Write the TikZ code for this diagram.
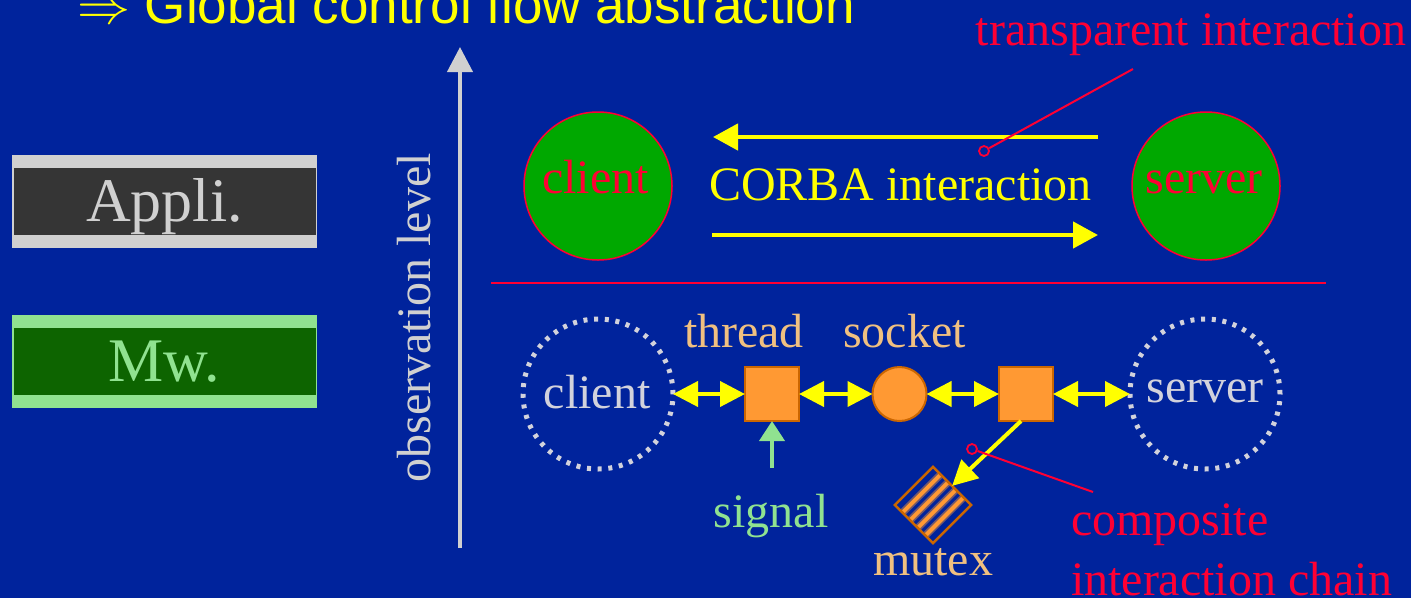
\documentclass[tikz,border=0pt]{standalone}
\usepackage{fontspec}
\setmainfont{Liberation Serif}
\newfontfamily\titlefont{Liberation Sans}
\usetikzlibrary{arrows.meta,calc}

\definecolor{slidebg}{RGB}{0,35,156}
\definecolor{axisgray}{RGB}{208,208,208}
\definecolor{applidark}{RGB}{53,53,53}
\definecolor{mwdark}{RGB}{13,100,0}
\definecolor{mwlight}{RGB}{144,226,144}
\definecolor{hotred}{RGB}{255,0,51}
\definecolor{brightyellow}{RGB}{255,255,0}
\definecolor{ballgreen}{RGB}{0,168,0}
\definecolor{lockorange}{RGB}{255,153,51}
\definecolor{lockedge}{RGB}{204,102,0}
\definecolor{tan}{RGB}{240,192,128}
\definecolor{dotgray}{RGB}{210,210,220}

\newcommand\szlabel{\fontsize{48}{58}\selectfont}
\newcommand\szlayer{\fontsize{62}{72}\selectfont}

\begin{document}
\begin{tikzpicture}[x=1pt,y=-1pt,
  txt/.style={anchor=base,inner sep=0pt,outer sep=0pt,font=\szlabel},
  txtleft/.style={anchor=base west,inner sep=0pt,outer sep=0pt,font=\szlabel},
  layertxt/.style={anchor=base,inner sep=0pt,font=\szlayer},
  bar/.style={inner sep=0pt,outer sep=0pt,minimum width=305pt,minimum height=93pt},
  barcore/.style={inner sep=0pt,outer sep=0pt,minimum width=302pt,minimum height=67pt},
  ball/.style={circle,fill=ballgreen,draw=hotred,line width=1.5pt,minimum size=148pt,inner sep=0pt,outer sep=0pt},
  ghost/.style={circle,draw=dotgray,line width=5pt,dash pattern=on 4pt off 6.7pt,minimum size=150pt,inner sep=0pt,outer sep=0pt},
  resource/.style={fill=lockorange,draw=lockedge,line width=2pt,minimum size=54pt,inner sep=0pt,outer sep=0pt},
  pin/.style={circle,draw=hotred,line width=1.8pt,minimum size=10pt,inner sep=0pt},
  leader/.style={hotred,line width=2pt},
  flow/.style={brightyellow,line width=4.5pt,-{Triangle[length=25pt,width=26pt]}},
  biflow/.style={brightyellow,line width=4pt,{Triangle[length=25pt,width=25pt]}-{Triangle[length=25pt,width=25pt]}},
  callflow/.style={brightyellow,line width=4pt,-{Triangle[length=25pt,width=25pt]}}]

% background
\fill[slidebg] (0,0) rectangle (1411,598);
\useasboundingbox (0,0) rectangle (1411,598);

% title
\node[anchor=base west,inner sep=0pt,text=brightyellow,font=\titlefont\fontsize{53}{60}\selectfont]
  (title) at (77,23) {{\normalsize\scalebox{5.3}{$\Rightarrow$}}\ Global control flow abstraction};

% layer boxes
\node[bar,fill=axisgray] (applibar) at (164.5,201.5) {};
\node[barcore,fill=applidark] (applicore) at (165,201.5) {};
\node[layertxt,text=axisgray] (applitxt) at (164.5,221) {Appli.};

\node[bar,fill=mwlight] (mwbar) at (164.5,361.5) {};
\node[barcore,fill=mwdark] (mwcore) at (165,361.5) {};
\node[layertxt,text=mwlight] (mwtxt) at (164,381) {Mw.};

% observation axis
\coordinate (axbot) at (460,548);
\coordinate (axtop) at (460,47);
\draw[axisgray,line width=4pt,-{Triangle[length=25pt,width=25pt]}] (axbot) -- (axtop);
\node[txt,rotate=90,text=axisgray] (axtxt) at (430,318) {observation level};

% application level
\node[ball] (cliA) at (598,186) {};
\node[ball] (srvA) at (1206,186) {};
\node[txt,text=hotred] (cliAtxt) at (595.5,193) {client};
\node[txt,text=hotred] (srvAtxt) at (1204,193) {server};
\node[txt,text=brightyellow] (corba) at (900.5,200) {CORBA interaction};

\coordinate (reqL) at (713,137);
\coordinate (reqR) at (1098,137);
\coordinate (repL) at (712,235);
\coordinate (repR) at (1098,235);
\draw[flow] (reqR) -- (reqL);
\draw[flow] (repL) -- (repR);

\node[txt,text=hotred] (transp) at (1191,45) {transparent interaction};
\node[pin] (tpin) at (984,151) {};
\coordinate (tend) at (1133,69);
\draw[leader] (tpin) -- (tend);

% level separator
\coordinate (sepL) at (491,283);
\coordinate (sepR) at (1326,283);
\draw[hotred,line width=2pt] (sepL) -- (sepR);

% middleware level
\node[ghost] (cliB) at (598,394) {};
\node[ghost] (srvB) at (1205,394) {};
\node[txt,text=dotgray] (cliBtxt) at (597,408) {client};
\node[txt,text=dotgray] (srvBtxt) at (1205,402) {server};

\node[resource,rectangle] (thr) at (772,394) {};
\node[resource,circle] (sock) at (899.5,394) {};
\node[resource,rectangle] (thr2) at (1026,394) {};
\node[txt,text=tan] (thrtxt) at (744,347) {thread};
\node[txt,text=tan] (socktxt) at (904.5,347) {socket};

\draw[biflow] (cliB) -- (thr);
\draw[biflow] (thr) -- (sock);
\draw[biflow] (sock) -- (thr2);
\draw[biflow] (thr2) -- (srvB);

% signal
\coordinate (sigfoot) at (772,468);
\draw[mwlight,line width=4pt,-{Triangle[length=20pt,width=25pt]}] (sigfoot) -- (thr.south);
\node[txt,text=mwlight] (sigtxt) at (771,527) {signal};

% mutex with striped fill
\node[rotate=45,minimum size=54pt,inner sep=0pt,outer sep=0pt,fill=slidebg] (mtx) at (933,505) {};
\begin{scope}
  \clip (mtx.north west) -- (mtx.north east) -- (mtx.south east) -- (mtx.south west) -- cycle;
  \foreach \f in {0.2,0.4,0.6,0.8}{
    \draw[lockorange,opacity=0.45,line width=7.5pt]
      ($(mtx.north west)!\f!(mtx.south west)$) -- ($(mtx.north east)!\f!(mtx.south east)$);
    \draw[lockorange,line width=4pt]
      ($(mtx.north west)!\f!(mtx.south west)$) -- ($(mtx.north east)!\f!(mtx.south east)$);
  }
\end{scope}
\draw[lockedge,line width=2.5pt,line join=miter]
  (mtx.north west) -- (mtx.north east) -- (mtx.south east) -- (mtx.south west) -- cycle;
\node[txt,text=tan] (mtxtxt) at (933,575) {mutex};

\coordinate (lockfrom) at ($(thr2.south)+(-5,0)$);
\draw[callflow] (lockfrom) -- (mtx.east);

% composite chain annotation
\node[pin] (cpin) at (972,449) {};
\coordinate (cend) at (1093,492);
\draw[leader] (cpin) -- (cend);
\node[txtleft,text=hotred] (comp1) at (1071,535) {composite};
\node[txtleft,text=hotred] (comp2) at (1071,595) {interaction chain};

\end{tikzpicture}
\end{document}
